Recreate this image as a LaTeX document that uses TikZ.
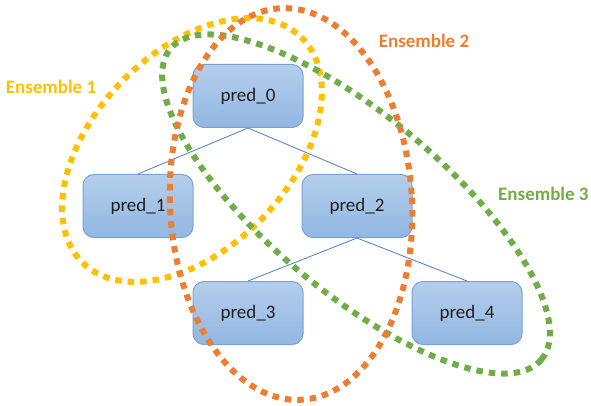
\documentclass[tikz,border=0pt]{standalone}
\usepackage{fontspec}
\setmainfont{Carlito}
\usepackage{tikz}
\definecolor{gelb}{HTML}{FFC000}
\definecolor{orange}{HTML}{ED7D31}
\definecolor{gruen}{HTML}{70AD47}
\definecolor{kasten}{HTML}{79A2D8}
\definecolor{linie}{HTML}{5B87CF}

\begin{document}
\begin{tikzpicture}[x=1pt, y=-1pt,
    predbox/.style={rectangle, rounded corners=11pt, draw=kasten, line width=1pt,
        top color={rgb,255:red,180;green,206;blue,235}, bottom color={rgb,255:red,146;green,183;blue,226},
        minimum width=110pt, minimum height=63pt, text=black!88, font=\fontsize{19}{22}\selectfont},
    kante/.style={color=linie, line width=0.9pt},
    ens/.style={line width=6pt, dash pattern=on 6.5pt off 6pt},
    enslabel/.style={font=\bfseries\fontsize{19}{22}\selectfont}
    ]
    \useasboundingbox (0,0) rectangle (591,406);

    % Knoten.
    \node[predbox] (pred0) at (248,96) {pred\_0};
    \node[predbox] (pred1) at (138,206) {pred\_1};
    \node[predbox] (pred2) at (357,206) {pred\_2};
    \node[predbox] (pred3) at (248,313) {pred\_3};
    \node[predbox] (pred4) at (467,313) {pred\_4};

    % Kanten.
    \foreach \a/\b in {pred0/pred1, pred0/pred2, pred2/pred3, pred2/pred4}
    {
        \draw[kante] (\a.south) -- (\b.north);
    }

    % Ensembles.
    \draw[ens, color=gelb, rotate around={46:(192,150)}] (192,150) ellipse (157 and 98);
    \draw[ens, color=gruen, rotate around={-40:(356,204)}] (356,204) ellipse (242 and 88);
    \draw[ens, color=orange, rotate around={3:(291,204)}] (291,204) ellipse (121 and 196);

    % Beschriftung.
    \node[enslabel, text=gelb] (ens1) at (51,87) {Ensemble 1};
    \node[enslabel, text=orange] (ens2) at (424,41) {Ensemble 2};
    \node[enslabel, text=gruen, anchor=west, inner sep=0pt] (ens3) at (498,194) {Ensemble 3};
\end{tikzpicture}
\end{document}
